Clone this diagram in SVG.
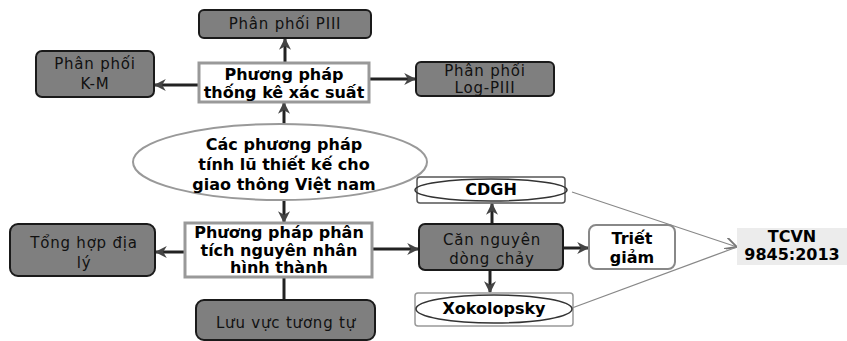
<svg xmlns="http://www.w3.org/2000/svg" width="847" height="341" viewBox="0 0 847 341">
<defs>
<marker id="ah" viewBox="0 0 10 10" refX="9" refY="5" markerWidth="4" markerHeight="4" orient="auto" markerUnits="strokeWidth">
<path d="M0,0 L10,5 L0,10 L3,5 Z" fill="#444"/>
</marker>
<marker id="av" viewBox="0 0 10 10" refX="10" refY="5" markerWidth="12" markerHeight="12" orient="auto" markerUnits="userSpaceOnUse">
<path d="M0,0 L10,5 L0,10" fill="none" stroke="#777" stroke-width="1.5"/>
</marker>
<style>
.g{fill:#7f7f7f;stroke:#1a1a1a;stroke-width:2}
.w{fill:#fff;stroke:#999;stroke-width:3}
.tr{font-family:"DejaVu Sans","Open Sans",sans-serif;font-size:15px;fill:#111;text-anchor:middle;letter-spacing:0.8px}
.tb{font-family:"DejaVu Sans","Liberation Sans",sans-serif;font-weight:bold;font-size:16px;fill:#000;text-anchor:middle}
.c{stroke:#222;stroke-width:3;fill:none;marker-end:url(#ah)}
.d{stroke:#222;stroke-width:3;fill:none}
.t{stroke:#888;stroke-width:1.3;fill:none}
</style>
</defs>
<rect width="847" height="341" fill="#fff"/>
<g id="connectors">
<line class="c" x1="285" y1="63" x2="285" y2="39"/>
<line class="c" x1="199" y1="85" x2="155" y2="85"/>
<line class="c" x1="369" y1="79" x2="415" y2="79"/>
<line class="c" x1="284" y1="124" x2="284" y2="103"/>
<line class="c" x1="284" y1="201" x2="284" y2="222"/>
<line class="c" x1="185" y1="252" x2="156" y2="252"/>
<line class="d" x1="284" y1="277" x2="284" y2="300"/>
<line class="c" x1="372" y1="249" x2="418" y2="249"/>
<line class="c" x1="492" y1="224" x2="492" y2="204"/>
<line class="c" x1="490" y1="270" x2="490" y2="292"/>
<line class="c" x1="563" y1="248" x2="588" y2="248"/>
<line class="t" x1="572" y1="192" x2="737" y2="247" marker-end="url(#av)"/>
<line class="t" x1="572" y1="308" x2="737" y2="247"/>
</g>
<g id="piii">
<rect class="g" x="199" y="10" width="172" height="28" rx="5"/>
<text class="tr" x="285" y="29">Phân phối PIII</text>
</g>
<g id="km">
<rect class="g" x="36" y="51" width="118" height="46" rx="6"/>
<text class="tr" x="95" y="69">Phân phối</text>
<text class="tr" x="95" y="89">K-M</text>
</g>
<g id="thongke">
<rect class="w" x="199" y="63" width="170" height="39"/>
<text class="tb" x="284" y="80" font-size="15.5">Phương pháp</text>
<text class="tb" x="284" y="98" font-size="15.5">thống kê xác suất</text>
</g>
<g id="logpiii">
<rect class="g" x="416" y="62" width="138" height="34" rx="5"/>
<text class="tr" x="485" y="76" font-size="14">Phân phối</text>
<text class="tr" x="485" y="93" font-size="14">Log-PIII</text>
</g>
<g id="center">
<ellipse cx="280" cy="162" rx="147" ry="38" fill="#fff" stroke="#999" stroke-width="2"/>
<text class="tb" x="284" y="150">Các phương pháp</text>
<text class="tb" x="284" y="170">tính lũ thiết kế cho</text>
<text class="tb" x="284" y="190">giao thông Việt nam</text>
</g>
<g id="phantich">
<rect class="w" x="185" y="223" width="187" height="54"/>
<text class="tb" x="279" y="238" font-size="14.5">Phương pháp phân</text>
<text class="tb" x="279" y="255.5" font-size="14.5">tích nguyên nhân</text>
<text class="tb" x="279" y="273" font-size="14.5">hình thành</text>
</g>
<g id="tonghop">
<rect class="g" x="10" y="224" width="145" height="52" rx="8"/>
<text class="tr" x="84" y="248" font-size="17">Tổng hợp địa</text>
<text class="tr" x="84" y="268" font-size="17">lý</text>
</g>
<g id="luuvuc">
<rect class="g" x="196" y="300" width="179" height="40" rx="8"/>
<text class="tr" x="286" y="328" font-size="17">Lưu vực tương tự</text>
</g>
<g id="cannguyen">
<rect class="g" x="419" y="224" width="144" height="46" rx="6"/>
<text class="tr" x="492" y="245" font-size="15">Căn nguyên</text>
<text class="tr" x="492" y="264" font-size="15">dòng chảy</text>
</g>
<g id="cdgh">
<rect x="417" y="177" width="148" height="26" rx="3" fill="#fff" stroke="#555" stroke-width="1.5"/>
<ellipse cx="491" cy="190" rx="76" ry="11" fill="none" stroke="#333" stroke-width="1.5"/>
<text class="tb" x="491" y="195" font-size="14">CDGH</text>
</g>
<g id="xokolopsky">
<rect x="415" y="293" width="158" height="33" rx="3" fill="#fff" stroke="#999" stroke-width="1.5"/>
<ellipse cx="494" cy="309" rx="78" ry="14" fill="none" stroke="#333" stroke-width="1.5"/>
<text class="tb" x="494" y="314" font-size="14.5">Xokolopsky</text>
</g>
<g id="trietgiam">
<rect x="589" y="225" width="86" height="44" rx="7" fill="#fff" stroke="#888" stroke-width="2"/>
<text class="tb" x="632" y="244">Triết</text>
<text class="tb" x="632" y="263">giảm</text>
</g>
<g id="tcvn">
<rect x="737" y="228" width="110" height="37" fill="#ececec"/>
<text class="tb" x="792" y="242" font-size="13.5">TCVN</text>
<text class="tb" x="792" y="260" font-size="13.5">9845:2013</text>
</g>
</svg>
